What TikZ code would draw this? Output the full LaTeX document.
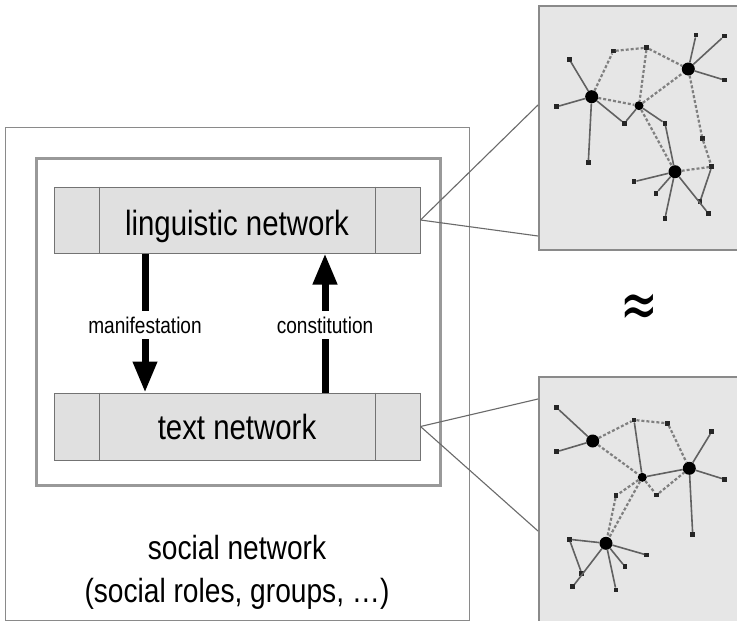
\documentclass[tikz,border=0pt]{standalone}
\usepackage{fontspec}
\setmainfont[FakeStretch=0.84]{Liberation Sans}
\newfontfamily\symfont{DejaVu Sans}
\usetikzlibrary{arrows.meta}
\definecolor{boxfill}{HTML}{E0E0E0}
\definecolor{panelfill}{HTML}{E6E6E6}
\definecolor{edgegray}{HTML}{8A8A8A}
\definecolor{linkgray}{HTML}{6A6A6A}
\begin{document}
\begin{tikzpicture}[x=1pt,y=-1pt,
  frame/.style={draw=edgegray, line width=1.2pt, inner sep=0pt},
  netbox/.style={draw=black!55, fill=boxfill, line width=1pt, minimum width=366pt, minimum height=66pt, inner sep=0pt},
  bigtxt/.style={font=\fontsize{35}{38}\selectfont, anchor=base},
  lbl/.style={font=\fontsize{22.7}{25}\selectfont, fill=white, inner xsep=2pt, inner ysep=6pt},
  bigarrow/.style={line width=7pt, -{Triangle[width=23pt,length=31pt]}},
  panel/.style={draw=edgegray, fill=panelfill, line width=1.5pt, inner sep=0pt, anchor=north west},
  link/.style={draw=linkgray, line width=1.1pt},
  hub/.style={circle, fill=black, inner sep=0pt, minimum size=13pt},
  mid/.style={circle, fill=black, inner sep=0pt, minimum size=9pt},
  sm/.style={rectangle, fill=black!85, inner sep=0pt, minimum size=4.5pt},
  sol/.style={draw=black!62, line width=1.6pt},
  dsh/.style={draw=black!50, line width=2.2pt, dash pattern=on 3pt off 2pt}
]
\useasboundingbox (0,0) rectangle (737,621);
\fill[white] (0,0) rectangle (737,621);

% left boxes
\node[frame, minimum width=464pt, minimum height=493pt, anchor=north west] (outer) at (5,127) {};
\node[frame, draw=black!40, line width=2.5pt, minimum width=404pt, minimum height=327pt, anchor=north west] (inner) at (35,157) {};
\node[netbox] (ling) at (237,220) {};
\node[netbox, minimum height=67pt] (text) at (237,426.5) {};
\coordinate (dl) at (99,0);
\coordinate (dr) at (375,0);
\draw[black!55, line width=1pt] (ling.north -| dl) -- (ling.south -| dl);
\draw[black!55, line width=1pt] (ling.north -| dr) -- (ling.south -| dr);
\draw[black!55, line width=1pt] (text.north -| dl) -- (text.south -| dl);
\draw[black!55, line width=1pt] (text.north -| dr) -- (text.south -| dr);
\node[bigtxt] (lingtxt) at (237,235) {linguistic network};
\node[bigtxt] (texttxt) at (237,439) {text network};
\node[bigtxt, font=\fontsize{33.5}{36}\selectfont] (soc) at (237,559) {social network};
\node[bigtxt, font=\fontsize{33.5}{36}\selectfont] (socsub) at (237,602) {(social roles, groups, \dots)};

% arrows
\coordinate (ma) at (145,0);
\coordinate (co) at (325,0);
\draw[bigarrow] (ling.south -| ma) -- (text.north -| ma);
\draw[bigarrow] (text.north -| co) -- (ling.south -| co);
\node[lbl, anchor=base] (man) at (145,333) {manifestation};
\node[lbl, anchor=base] (con) at (325,333) {constitution};

% panels
\node[panel, minimum width=210pt, minimum height=244pt] (ptop) at (538,5) {};
\node[panel, minimum width=210pt, minimum height=260pt] (pbot) at (538,376) {};
\coordinate (pt1) at (538,105);
\coordinate (pt2) at (538,236);
\coordinate (pb1) at (538,399);
\coordinate (pb2) at (538,531);
\draw[link] (ling.east) -- (pt1);
\draw[link] (ling.east) -- (pt2);
\draw[link] (text.east) -- (pb1);
\draw[link] (text.east) -- (pb2);

\node[inner sep=0pt] (approx) at (639,311) {\scalebox{0.9}[1.35]{\symfont\fontsize{50}{52}\selectfont ≈}};

% top network
\node[hub] (A) at (591.7,96.7) {};
\node[hub] (B) at (688.3,69) {};
\node[mid] (C) at (639,105.7) {};
\node[hub] (D) at (675,171.7) {};
\node[sm] (n1) at (569.3,59.3) {};
\node[sm] (n2) at (556.7,106.7) {};
\node[sm] (n3) at (588.3,162.7) {};
\node[sm] (n4) at (613.3,51) {};
\node[sm] (n5) at (646.7,47.7) {};
\node[sm] (n6) at (696,35) {};
\node[sm] (n7) at (724.3,36) {};
\node[sm] (n8) at (724.3,80) {};
\node[sm] (n9) at (624.3,123.3) {};
\node[sm] (n10) at (665,123.3) {};
\node[sm] (n11) at (702.3,138.3) {};
\node[sm] (n12) at (711.7,166.7) {};
\node[sm] (n13) at (634,181.7) {};
\node[sm] (n14) at (656,193.3) {};
\node[sm] (n15) at (665,218.3) {};
\node[sm] (n16) at (700,201.7) {};
\node[sm] (n17) at (708.3,213.3) {};
\foreach \a/\b in {A/n1,A/n2,A/n3,A/n9,n9/C,C/n10,n10/D,B/n6,B/n7,B/n8,D/n13,D/n14,D/n15,D/n17,n16/n12}
  \draw[sol] (\a) -- (\b);
\foreach \a/\b in {A/n4,n4/n5,n5/B,n5/C,A/C,C/B,C/D,B/n11,n11/n12,D/n12}
  \draw[dsh] (\a) -- (\b);

% bottom network
\node[hub] (E) at (592.7,441) {};
\node[hub] (F) at (689.3,468.3) {};
\node[mid] (G) at (642.3,477.3) {};
\node[hub] (H) at (606,543.3) {};
\node[sm] (m1) at (556.7,407.7) {};
\node[sm] (m2) at (556.7,451.7) {};
\node[sm] (m3) at (634,420) {};
\node[sm] (m4) at (667.7,423.3) {};
\node[sm] (m5) at (711.7,431.7) {};
\node[sm] (m6) at (724.3,479.3) {};
\node[sm] (m7) at (692.7,534.3) {};
\node[sm] (m8) at (656.7,495) {};
\node[sm] (m9) at (616,495.7) {};
\node[sm] (m10) at (569.3,539.3) {};
\node[sm] (m11) at (581.7,573.3) {};
\node[sm] (m12) at (572.7,586.7) {};
\node[sm] (m13) at (616,590) {};
\node[sm] (m14) at (625,566.7) {};
\node[sm] (m15) at (646.7,555) {};
\foreach \a/\b in {E/m1,E/m2,m3/G,G/F,F/m5,F/m6,F/m7,H/m10,H/m12,m10/m11,H/m13,H/m14,H/m15}
  \draw[sol] (\a) -- (\b);
\foreach \a/\b in {E/m3,m3/m4,m4/F,E/G,G/m8,m8/F,G/H,G/m9,m9/H}
  \draw[dsh] (\a) -- (\b);
\end{tikzpicture}
\end{document}
